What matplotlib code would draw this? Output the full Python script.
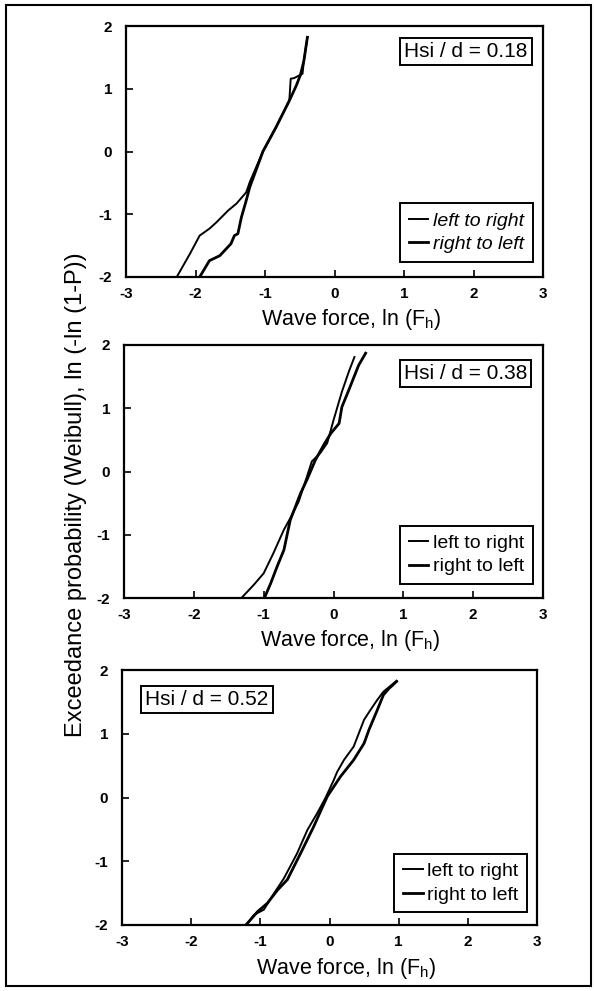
import matplotlib
matplotlib.use("Agg")
import matplotlib.pyplot as plt
from matplotlib.patches import Rectangle

plt.rcParams['font.family'] = ['Liberation Sans', 'DejaVu Sans']
plt.rcParams['mathtext.default'] = 'regular'

# ---- data ----
p1_ltr_x = [-2.27, -2.08, -1.94, -1.80, -1.70, -1.53, -1.41, -1.27, -1.22, -1.03, -0.84, -0.65, -0.63, -0.58, -0.46, -0.44, -0.39]
p1_ltr_y = [-2.00, -1.63, -1.34, -1.23, -1.13, -0.94, -0.83, -0.65, -0.49, 0.00, 0.39, 0.81, 1.16, 1.17, 1.24, 1.45, 1.82]
p1_rtl_x = [-1.94, -1.80, -1.65, -1.49, -1.44, -1.39, -1.34, -1.27, -1.22, -1.03, -0.84, -0.65, -0.55, -0.49, -0.44, -0.39]
p1_rtl_y = [-2.00, -1.74, -1.66, -1.47, -1.34, -1.31, -1.05, -0.78, -0.57, 0.00, 0.39, 0.81, 1.05, 1.22, 1.45, 1.82]

p2_ltr_x = [-1.31, -1.14, -1.00, -0.86, -0.71, -0.62, -0.50, -0.38, -0.31, -0.19, -0.09, 0.00, 0.12, 0.22, 0.30]
p2_ltr_y = [-1.99, -1.79, -1.61, -1.29, -0.92, -0.74, -0.48, -0.08, 0.16, 0.29, 0.45, 0.81, 1.26, 1.58, 1.81]
p2_rtl_x = [-0.99, -0.90, -0.81, -0.71, -0.62, -0.47, -0.38, -0.26, -0.14, -0.04, 0.08, 0.12, 0.22, 0.36, 0.46]
p2_rtl_y = [-2.00, -1.77, -1.51, -1.24, -0.77, -0.34, -0.13, 0.18, 0.42, 0.60, 0.76, 1.02, 1.29, 1.68, 1.87]

p3_ltr_x = [-1.20, -1.09, -0.95, -0.80, -0.66, -0.47, -0.32, -0.18, -0.06, 0.06, 0.11, 0.21, 0.35, 0.50, 0.59, 0.69, 0.78, 0.97]
p3_ltr_y = [-1.99, -1.84, -1.76, -1.50, -1.27, -0.88, -0.51, -0.25, -0.01, 0.27, 0.40, 0.59, 0.80, 1.22, 1.37, 1.53, 1.66, 1.83]
p3_rtl_x = [-1.20, -1.04, -0.90, -0.75, -0.61, -0.42, -0.23, -0.11, -0.03, 0.16, 0.35, 0.50, 0.57, 0.69, 0.78, 0.86, 0.97]
p3_rtl_y = [-1.99, -1.79, -1.66, -1.45, -1.29, -0.88, -0.46, -0.17, 0.02, 0.33, 0.59, 0.85, 1.06, 1.37, 1.61, 1.71, 1.82]

labels_hsi = ['Hsi / d = 0.18', 'Hsi / d = 0.38', 'Hsi / d = 0.52']
series_names = ['left to right', 'right to left']
xticks = [-3, -2, -1, 0, 1, 2, 3]
yticks = [-2, -1, 0, 1, 2]

W, H = 594, 991
fig = plt.figure(figsize=(W / 100, H / 100), dpi=100)

def frac(l, r, t, b):
    return [l / W, (H - b) / H, (r - l) / W, (b - t) / H]

boxes = [frac(126, 543, 26, 277), frac(124, 543, 345, 598), frac(122, 537, 670, 925)]
data = [(p1_ltr_x, p1_ltr_y, p1_rtl_x, p1_rtl_y),
        (p2_ltr_x, p2_ltr_y, p2_rtl_x, p2_rtl_y),
        (p3_ltr_x, p3_ltr_y, p3_rtl_x, p3_rtl_y)]
hsi_pos = [(0.815, 0.898), (0.815, 0.888), (0.205, 0.885)]
leg_anchor = [(0.976, 0.06), (0.976, 0.055), (0.977, 0.05)]
italic = [True, False, False]

for i in range(3):
    ax = fig.add_axes(boxes[i])
    lx, ly, rx, ry = data[i]
    l1, = ax.plot(lx, ly, color='black', lw=1.4, label=series_names[0])
    l2, = ax.plot(rx, ry, color='black', lw=2.0, label=series_names[1])
    ax.set_xlim(-3, 3)
    ax.set_ylim(-2, 2)
    ax.set_xticks(xticks)
    ax.set_yticks(yticks)
    ax.set_xticklabels([str(t) for t in xticks], fontweight='bold', fontsize=11)
    ax.set_yticklabels([str(t) for t in yticks], fontweight='bold', fontsize=11)
    ax.tick_params(axis='x', direction='in', length=5, width=1.2, pad=7, top=False)
    ax.tick_params(axis='y', direction='in', length=5, width=1.2, pad=10, right=False)
    for s in ax.spines.values():
        s.set_linewidth(1.6)
    ax.set_xlabel('Wave force, ln (F$_h$)', fontsize=15.5, labelpad=2)
    ax.xaxis.set_label_coords(0.54, -0.12)
    ax.text(hsi_pos[i][0], hsi_pos[i][1], labels_hsi[i], transform=ax.transAxes,
            ha='center', va='center', fontsize=15,
            bbox=dict(boxstyle='square,pad=0.2', fc='white', ec='black', lw=1.4))
    leg = ax.legend(handles=[l1, l2], loc='lower right', bbox_to_anchor=leg_anchor[i],
                    borderaxespad=0, fancybox=False, edgecolor='black', framealpha=1,
                    handlelength=1.0, handletextpad=0.25,
                    borderpad=0.45, labelspacing=0.3,
                    prop={'style': 'italic' if italic[i] else 'normal', 'size': 14})
    leg.get_frame().set_linewidth(1.4)

fig.text(76 / W, 1 - 495 / H, 'Exceedance probability (Weibull), ln (-ln (1-P))',
         rotation=90, ha='center', va='center', fontsize=17)

fig.patches.append(Rectangle((6 / W, 5 / H), (591 - 6) / W, (986 - 5) / H,
                             transform=fig.transFigure, fill=False, ec='black', lw=1.5))

fig.savefig('out.png', dpi=100)
